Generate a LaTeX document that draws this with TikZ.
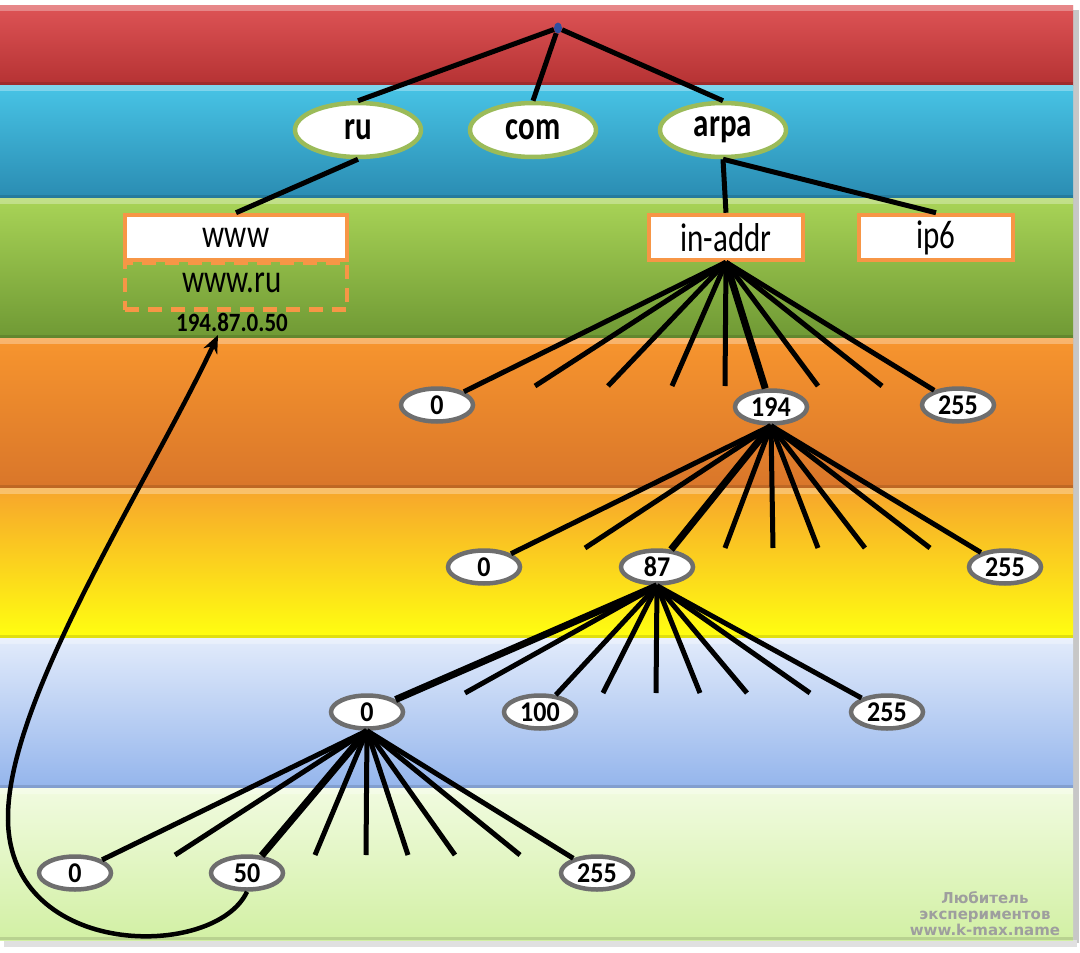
\documentclass[tikz,border=0pt]{standalone}
\usepackage{fontspec}
\setmainfont{Carlito}
\newfontfamily\wmfont{DejaVu Sans}
\usetikzlibrary{shapes.geometric,arrows.meta}
\definecolor{ellgreen}{HTML}{9BBB59}
\definecolor{boxorange}{HTML}{F79646}
\definecolor{ellgray}{HTML}{6E6E6E}
\definecolor{redT}{HTML}{DE5456}\definecolor{redB}{HTML}{B53233}
\definecolor{blueT}{HTML}{48C4E6}\definecolor{blueB}{HTML}{2A8CB2}
\definecolor{greenT}{HTML}{A9D457}\definecolor{greenB}{HTML}{6F9934}
\definecolor{orT}{HTML}{F7952E}\definecolor{orB}{HTML}{D9762A}
\definecolor{yeT}{HTML}{F7A52C}\definecolor{yeB}{HTML}{FFFF10}
\definecolor{lbT}{HTML}{E2EBFB}\definecolor{lbB}{HTML}{94B5EC}
\definecolor{lgT}{HTML}{F1FBE0}\definecolor{lgB}{HTML}{D2F0A4}
\definecolor{rootblue}{HTML}{2F4F9F}
\newcommand{\stx}[2]{\scalebox{1}[#1]{#2}}
\begin{document}
\begin{tikzpicture}[x=1pt,y=-1pt,
  tld/.style={ellipse,draw=ellgreen,line width=4.5pt,fill=white,minimum width=126pt,minimum height=54pt,inner sep=0pt,font=\fontsize{31}{31}\selectfont\bfseries},
  dombox/.style={rectangle,draw=boxorange,line width=4.5pt,fill=white,minimum width=154pt,minimum height=45pt,inner sep=0pt,font=\fontsize{31}{31}\selectfont},
  num/.style={ellipse,draw=ellgray,line width=4.5pt,fill=white,minimum width=72pt,minimum height=33pt,inner sep=0pt,font=\fontsize{26}{26}\selectfont\bfseries},
  link/.style={line width=5pt,black},
  mainlink/.style={line width=7pt,black},
  band/.style={draw=none}]
\useasboundingbox (0,0) rectangle (1080,953);
\fill[white] (0,0) rectangle (1080,953);
% shadows
\fill[black!22] (1073,10) rectangle (1079,943);
\fill[black!12] (4,940) rectangle (1077,947);
% bands
\shade[band,top color=redT,bottom color=redB] (0,5) rectangle (1073,85);
\shade[band,top color=blueT,bottom color=blueB] (0,85) rectangle (1073,198);
\shade[band,top color=greenT,bottom color=greenB] (0,198) rectangle (1073,338);
\shade[band,top color=orT,bottom color=orB] (0,338) rectangle (1073,488);
\shade[band,top color=yeT,bottom color=yeB] (0,488) rectangle (1073,638);
\shade[band,top color=lbT,bottom color=lbB] (0,638) rectangle (1073,788);
\shade[band,top color=lgT,bottom color=lgB] (0,788) rectangle (1073,940);
\foreach \ya in {5,85,198,338,488,638,788}{
  \fill[white,opacity=0.3] (0,\ya) rectangle (1073,\ya+6);
}
\foreach \yb in {85,198,338,488,638,788,940}{
  \fill[black,opacity=0.12] (0,\yb-3) rectangle (1073,\yb);
}

% root and TLDs
\node[ellipse,fill=rootblue,minimum width=8pt,minimum height=11pt,inner sep=0pt] (root) at (558,28) {};
\node[tld] (ru) at (358,130) {\stx{1.3}{ru}};
\node[tld] (com) at (533,130) {\stx{1.3}{com}};
\node[tld] (arpa) at (723,130) {\stx{1.3}{arpa}};

% second level
\node[rectangle,draw=boxorange,dashed,dash pattern=on 14pt off 9pt,line width=4.5pt,minimum width=222pt,minimum height=47pt,inner sep=0pt] (wwwru) at (236,286) {};
\node[font=\fontsize{31}{31}\selectfont] (wwwrutxt) at (232,283) {\stx{1.3}{www.ru}};
\node[dombox,minimum width=222pt] (www) at (236,237.5) {\stx{1.3}{www}};
\node[font=\fontsize{23}{23}\selectfont\bfseries] (ip) at (232,322) {\stx{1.15}{194.87.0.50}};
\node[dombox] (inaddr) at (726,237.5) {\stx{1.3}{in-addr}};
\node[dombox] (ipsix) at (936,237.5) {\stx{1.3}{ip6}};

\draw[link] (root) -- (ru.north);
\draw[link] (root) -- (com.north);
\draw[link] (root) -- (arpa.north);
\draw[link] (ru.south) -- (www.north);
\draw[link] (arpa.south) -- (inaddr.north);
\draw[link] (arpa.south) -- (ipsix.north);

% level: first octet
\node[num] (a0) at (437,405) {\stx{1.1}{0}};
\node[num] (a194) at (771,407) {\stx{1.1}{194}};
\node[num] (a255) at (958,405) {\stx{1.1}{255}};
\foreach \x [count=\i] in {535,608,672,725,818,882}{
  \coordinate (ia\i) at (\x,386);
  \draw[link] (inaddr.south) -- (ia\i);
}
\draw[link] (inaddr.south) -- (a0);
\draw[mainlink] (inaddr.south) -- (a194);
\draw[link] (inaddr.south) -- (a255);

% second octet
\node[num] (b0) at (484,567) {\stx{1.1}{0}};
\node[num] (b87) at (657,567) {\stx{1.1}{87}};
\node[num] (b255) at (1005,567) {\stx{1.1}{255}};
\foreach \x [count=\i] in {585,725,773,818,865,930}{
  \coordinate (ib\i) at (\x,548);
  \draw[link] (a194.south) -- (ib\i);
}
\draw[link] (a194.south) -- (b0);
\draw[mainlink] (a194.south) -- (b87);
\draw[link] (a194.south) -- (b255);

% third octet
\node[num] (c0) at (367,712) {\stx{1.1}{0}};
\node[num] (c100) at (540,712) {\stx{1.1}{100}};
\node[num] (c255) at (887,712) {\stx{1.1}{255}};
\foreach \x [count=\i] in {465,603,656,700,747,810}{
  \coordinate (ic\i) at (\x,693);
  \draw[link] (b87.south) -- (ic\i);
}
\draw[mainlink] (b87.south) -- (c0);
\draw[link] (b87.south) -- (c100);
\draw[link] (b87.south) -- (c255);

% fourth octet
\node[num] (d0) at (75,873) {\stx{1.1}{0}};
\node[num] (d50) at (247,873) {\stx{1.1}{50}};
\node[num] (d255) at (597,873) {\stx{1.1}{255}};
\foreach \x [count=\i] in {175,315,366,408,455,520}{
  \coordinate (id\i) at (\x,855);
  \draw[link] (c0.south) -- (id\i);
}
\draw[link] (c0.south) -- (d0);
\draw[mainlink] (c0.south) -- (d50);
\draw[link] (c0.south) -- (d255);

% return arrow
\coordinate (tip) at (218,335);
\coordinate (loopl) at (8,820);
\draw[line width=4.5pt,-{Stealth[length=18pt,width=15pt]}] (d50.south) .. controls (215,960) and (10,960) .. (loopl) .. controls (6,700) and (150,480) .. (tip);

% watermark
\node[font=\wmfont\bfseries\fontsize{15}{16}\selectfont,text=black!38,align=center] (wm) at (985,914) {Любитель\\экспериментов\\www.k-max.name};
\end{tikzpicture}
\end{document}
